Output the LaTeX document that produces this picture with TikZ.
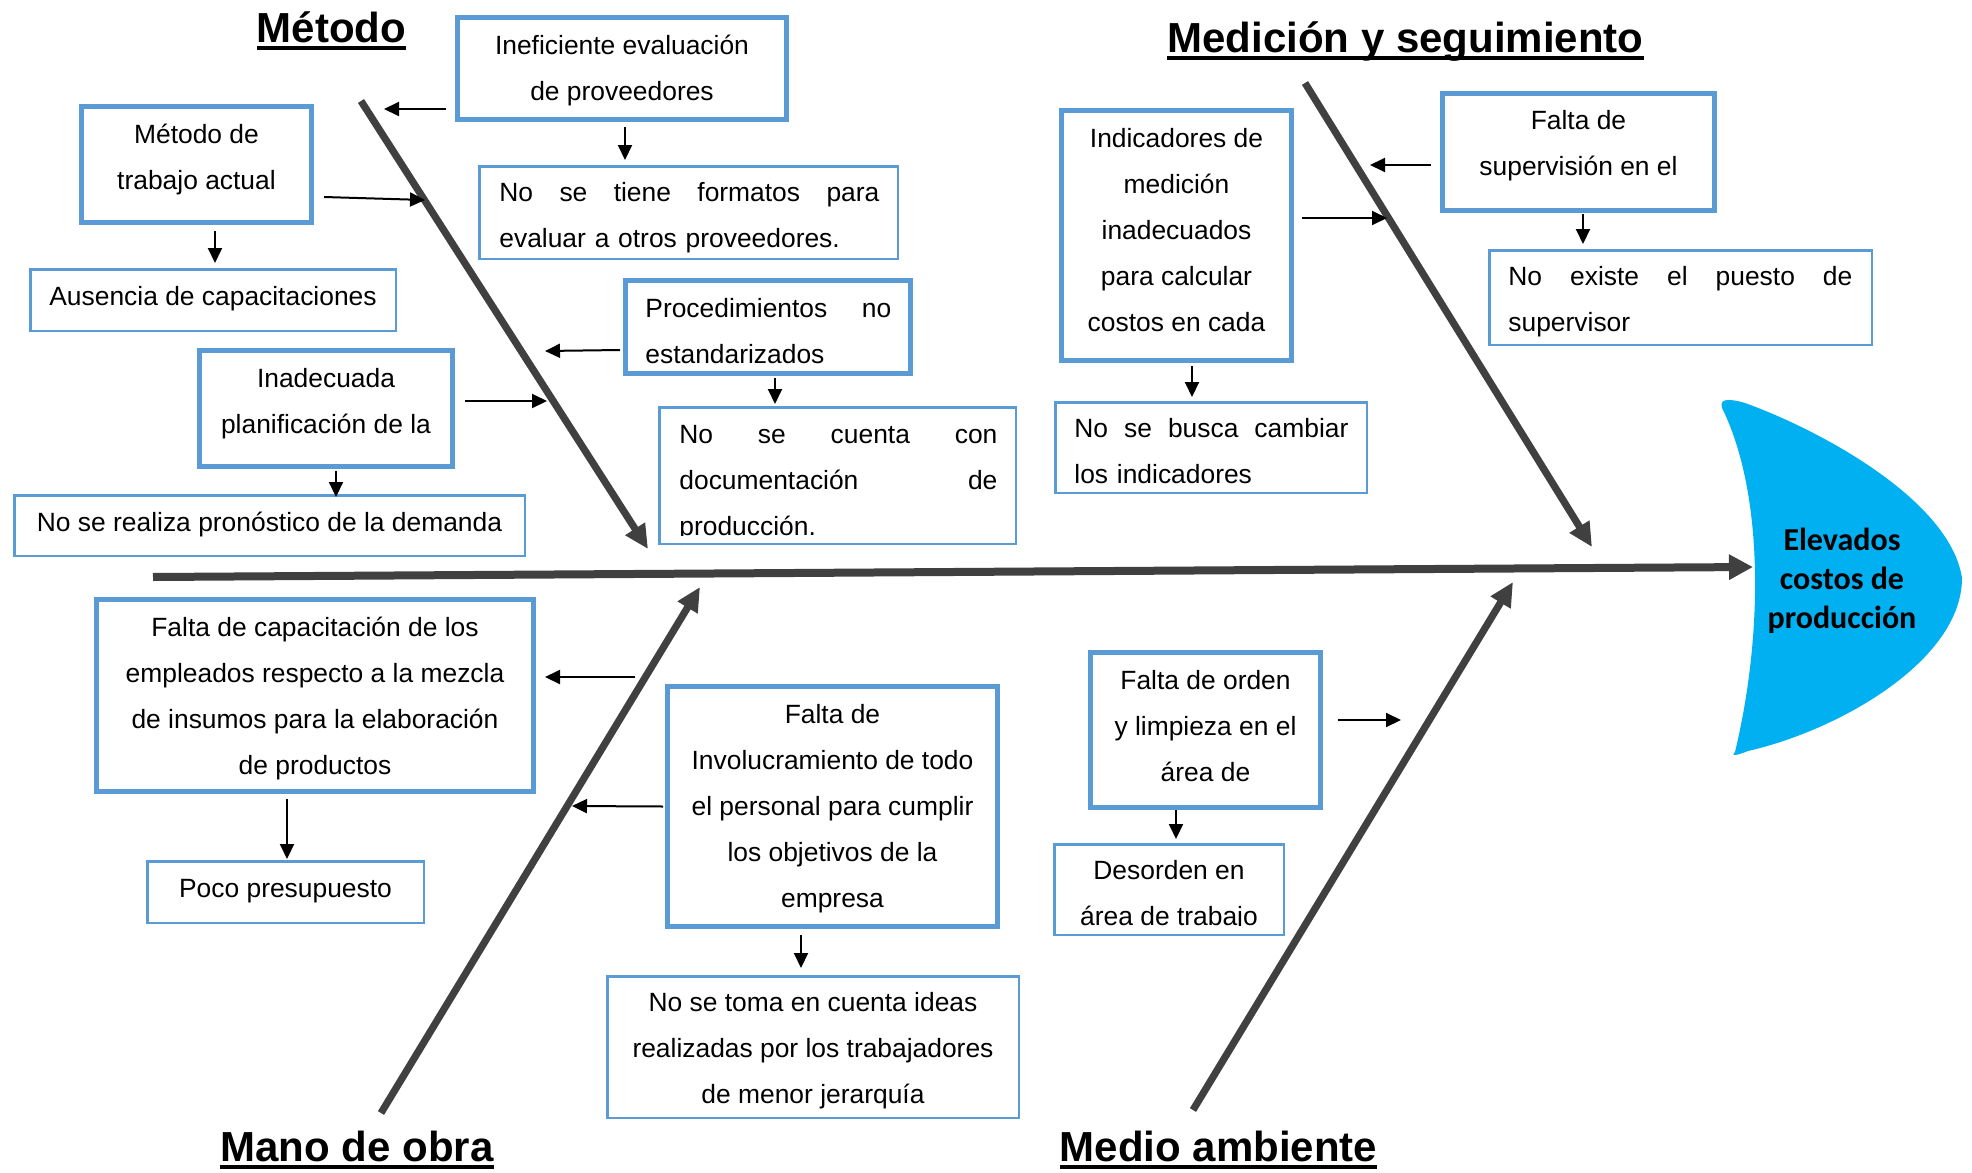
\documentclass[tikz,border=0pt]{standalone}
\usepackage{fontspec}
\setmainfont{Liberation Sans}
\newfontfamily\headfont{Carlito}
\usetikzlibrary{arrows.meta,calc}
\definecolor{boxblue}{HTML}{5B9BD5}
\definecolor{bonegray}{HTML}{404040}
\definecolor{headcyan}{HTML}{00B0F0}
\newsavebox\ulbox
\newcommand\myul[1]{\sbox\ulbox{#1}\rlap{\rule[-0.2em]{\wd\ulbox}{0.1em}}\usebox\ulbox}
\newcommand\jline[2]{\makebox[#1][s]{\spaceskip=0pt\xspaceskip=0pt\relax #2}}
\tikzset{
  thickbox/.style={draw=boxblue, line width=2.5pt, inner sep=0pt},
  thinbox/.style={draw=boxblue, line width=1.25pt, inner sep=0pt},
  txt/.style={inner sep=0pt, font=\fontsize{13.2}{23}\selectfont, align=center},
  jtxt/.style={inner sep=0pt, font=\fontsize{13.2}{23}\selectfont, align=left, anchor=west},
  cattitle/.style={inner sep=0pt, anchor=base, font=\fontsize{21}{25}\selectfont\bfseries},
  bone/.style={draw=bonegray, line width=3.6pt, -{Triangle[length=12pt,width=11pt]}},
  spine/.style={draw=bonegray, line width=4pt, -{Triangle[length=12pt,width=12pt]}},
  smallarrow/.style={draw=black, line width=1pt, -{Triangle[length=7.5pt,width=7pt]}},
}
\begin{document}
\begin{tikzpicture}[x=0.5pt,y=-0.5pt]
\fill[white] (0,0) rectangle (1972,1173);
\useasboundingbox (0,0) rectangle (1972,1173);

% head
\fill[headcyan] (1735,752) .. controls (1762,640) and (1765,500) .. (1724,412)
  .. controls (1716,398) and (1728,398) .. (1745,403)
  .. controls (1820,430) and (1950,500) .. (1962,578)
  .. controls (1962,660) and (1840,730) .. (1748,751)
  .. controls (1738,755) and (1730,757) .. (1735,752) -- cycle;
\node[font=\headfont\bfseries\fontsize{16}{19.5}\selectfont, align=center, inner sep=0pt] (head) at (1842,581) {Elevados\\costos de\\producción};

% titles
\node[cattitle] (tmet) at (331.5,42) {\myul{Método}};
\node[cattitle] (tmed) at (1405.5,52) {\myul{Medición y seguimiento}};
\node[cattitle] (tmo) at (357,1161) {\myul{Mano de obra}};
\node[cattitle] (tma) at (1218.5,1161) {\myul{Medio ambiente}};

% bones
\coordinate (mt1) at (361,101);  \coordinate (mt2) at (648,549);
\coordinate (md1) at (1305,83);  \coordinate (md2) at (1592,547);
\coordinate (mo1) at (381,1113); \coordinate (mo2) at (700,587);
\coordinate (ma1) at (1193,1110);\coordinate (ma2) at (1513,582);
\coordinate (sp1) at (153,577);  \coordinate (sp2) at (1753,567);
\draw[spine] (sp1) -- (sp2);
\draw[bone] (mt1) -- (mt2);
\draw[bone] (md1) -- (md2);
\draw[bone] (mo1) -- (mo2);
\draw[bone] (ma1) -- (ma2);

% boxes
\node[thickbox, minimum width=164.5pt, minimum height=51pt] (b1) at (622,68.5) {};
\node[thinbox, minimum width=209.25pt, minimum height=46.25pt] (b2) at (688.5,212.5) {};
\node[thickbox, minimum width=115pt, minimum height=58pt] (b3) at (196.5,164.5) {};
\node[thinbox, minimum width=182.75pt, minimum height=30.75pt] (b4) at (213,300) {};
\node[thickbox, minimum width=142.5pt, minimum height=46.5pt] (b5) at (768,327) {};
\node[thinbox, minimum width=178.25pt, minimum height=68.25pt] (b6) at (837.5,475.5) {};
\node[thickbox, minimum width=126.5pt, minimum height=58pt] (b7) at (326,408.5) {};
\node[thinbox, minimum width=255.25pt, minimum height=30.25pt] (b8) at (269.5,525.5) {};
\node[thickbox, minimum width=115pt, minimum height=125pt] (b9) at (1176.5,235.5) {};
\node[thinbox, minimum width=155.75pt, minimum height=45.25pt] (b10) at (1211,447.5) {};
\node[thickbox, minimum width=136pt, minimum height=58.5pt] (b11) at (1578.5,152) {};
\node[thinbox, minimum width=191.25pt, minimum height=47.25pt] (b12) at (1680.5,297.5) {};
\node[thickbox, minimum width=218.5pt, minimum height=96pt] (b13) at (315,695.5) {};
\node[thinbox, minimum width=138.25pt, minimum height=30.75pt] (b14) at (285.5,892) {};
\node[thickbox, minimum width=165pt, minimum height=120pt] (b15) at (832.5,806.5) {};
\node[thinbox, minimum width=205.75pt, minimum height=70.75pt] (b16) at (813,1047) {};
\node[thickbox, minimum width=115pt, minimum height=77.5pt] (b17) at (1205.5,730) {};
\node[thinbox, minimum width=114.75pt, minimum height=45.25pt] (b18) at (1169,889.5) {};

% texts
\node[txt] (t1) at (622,71) {Ineficiente evaluación\\de proveedores};
\node[jtxt, text width=190pt] (t2) at (499,218) {\jline{190pt}{No se tiene formatos para}\\evaluar a otros proveedores.};
\node[txt] (t3) at (196.5,160) {Método de\\trabajo actual};
\node[txt] (t4) at (213,299) {Ausencia de capacitaciones};
\node[jtxt, text width=123pt] (t5) at (645,331) {\jline{123pt}{Procedimientos no}\\estandarizados};
\begin{scope}
\clip (658,406) rectangle (1017,535);
\node[jtxt, text width=159pt] (t6) at (679,483) {\jline{159pt}{No se cuenta con}\\\jline{159pt}{documentación de}\\producción.};
\end{scope}
\node[txt] (t7) at (326,404) {Inadecuada\\planificación de la};
\node[txt] (t8) at (269.5,525) {No se realiza pronóstico de la demanda};
\node[txt] (t9) at (1176.5,230) {Indicadores de\\medición\\inadecuados\\para calcular\\costos en cada};
\node[jtxt, text width=137pt] (t10) at (1074,451.5) {\jline{137pt}{No se busca cambiar}\\los indicadores};
\node[txt] (t11) at (1578.5,146) {Falta de\\supervisión en el};
\node[jtxt, text width=172pt] (t12) at (1508,302) {\jline{172pt}{No existe el puesto de}\\supervisor};
\node[txt] (t13) at (315,698.5) {Falta de capacitación de los\\empleados respecto a la mezcla\\de insumos para la elaboración\\de productos};
\node[txt] (t14) at (285.5,891) {Poco presupuesto};
\node[txt] (t15) at (832.5,809) {Falta de\\Involucramiento de todo\\el personal para cumplir\\los objetivos de la\\empresa};
\node[txt] (t16) at (813,1051) {No se toma en cuenta ideas\\realizadas por los trabajadores\\de menor jerarquía};
\node[txt] (t17) at (1205.5,726) {Falta de orden\\y limpieza en el\\área de};
\begin{scope}
\clip (1053,843) rectangle (1285,925);
\node[txt] (t18) at (1169,896) {Desorden en\\área de trabajo};
\end{scope}

% arrow end coordinates
\coordinate (e1) at (384,109);
\coordinate (e3) at (425,200);
\coordinate (e5) at (545,351);
\coordinate (e7) at (547,401);
\coordinate (e9) at (1370,165);
\coordinate (e11) at (1387,218);
\coordinate (s13) at (635,677);
\coordinate (e15) at (572,806);
\coordinate (e17) at (1401,720);

% arrows
\draw[smallarrow] ($(b1.south west)+(-9,-13)$) -- (e1);
\draw[smallarrow] ($(b1.south)+(3,5)$) -- ($(b2.north)+(-63.5,-5)$);
\draw[smallarrow] ($(b3.east)+(10,32.5)$) -- (e3);
\draw[smallarrow] ($(b3.south)+(18.5,6)$) -- ($(b4.north)+(2,-5)$);
\draw[smallarrow] ($(b5.west)+(-3,23)$) -- (e5);
\draw[smallarrow] ($(b5.south)+(7,2)$) -- ($(b6.north)+(-62.5,-2)$);
\draw[smallarrow] ($(b7.east)+(10,-7.5)$) -- (e7);
\draw[smallarrow] ($(b7.south)+(10,2)$) -- ($(b8.north)+(66.5,3)$);
\draw[smallarrow] ($(b11.west)+(-9,13)$) -- (e9);
\draw[smallarrow] ($(b11.south)+(4.5,1)$) -- ($(b12.north)+(-97.5,-5)$);
\draw[smallarrow] ($(b9.east)+(8,-17.5)$) -- (e11);
\draw[smallarrow] ($(b9.south)+(15.5,3)$) -- ($(b10.north)+(-19,-4)$);
\draw[smallarrow] (s13) -- ($(b13.east)+(9,-18.5)$);
\draw[smallarrow] ($(b13.south)+(-28,5)$) -- ($(b14.north)+(1.5,-1)$);
\draw[smallarrow] ($(b15.west)+(-2,0)$) -- (e15);
\draw[smallarrow] ($(b15.south)+(-31.5,6)$) -- ($(b16.north)+(-12,-7)$);
\draw[smallarrow] ($(b17.east)+(15,-10)$) -- (e17);
\draw[smallarrow] ($(b17.south)+(-29.5,0)$) -- ($(b18.north)+(7,-4)$);
\end{tikzpicture}
\end{document}
